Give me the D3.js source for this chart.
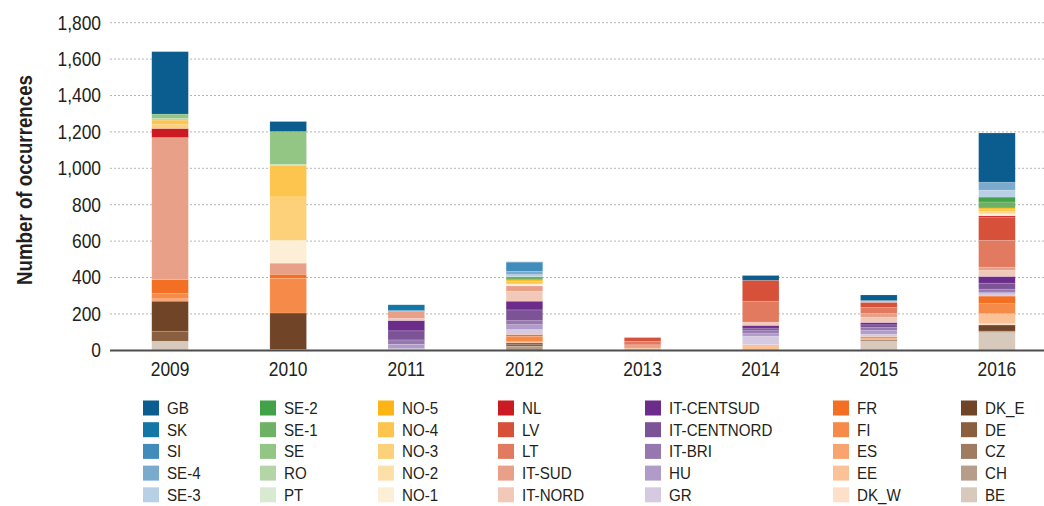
<!DOCTYPE html>
<html>
<head>
<meta charset="utf-8">
<script src="https://cdn.jsdelivr.net/npm/d3@7"></script>
<style>
  body { margin: 0; background: #fff; }
  text { font-family: "Liberation Sans", Arial, sans-serif; fill: #231f20; }
</style>
</head>
<body>
<div class="chart"></div>
<script>
var svgWidth = 1044;
var svgHeight = 506;

// the reference uses a condensed face, so text gets squeezed horizontally
var squeeze = 0.87;

// years on the x axis
var years = ["2009", "2010", "2011", "2012", "2013", "2014", "2015", "2016"];

// bidding zones, in stacking order (bottom -> top)
var zones = ["BE", "CH", "CZ", "DE", "DK_E", "DK_W", "EE", "ES", "FI", "FR",
  "GR", "HU", "IT-BRI", "IT-CENTNORD", "IT-CENTSUD", "IT-NORD", "IT-SUD", "LT", "LV", "NL",
  "NO-1", "NO-2", "NO-3", "NO-4", "NO-5", "PT", "RO", "SE", "SE-1", "SE-2",
  "SE-3", "SE-4", "SI", "SK", "GB"];

var zoneColors = ["#d8c9bd", "#b79c87", "#9e7b61", "#8a5f40", "#704427", "#fddfca", "#fcc297", "#f9a46f", "#f68a48", "#f26f23",
  "#d5cae2", "#b19cc9", "#9677b0", "#7d5397", "#6b2c8b", "#f2c8b8", "#e9a088", "#e27a5f", "#d6503a", "#cc1a22",
  "#fdefd5", "#fde0a8", "#fdd17a", "#fdc44e", "#fdb515", "#d9ead3", "#b4d6a7", "#93c585", "#6db264", "#41a247",
  "#b8d0e5", "#7aaacd", "#428cbc", "#1276a7", "#0b5c8f"];

// occurrences per year, same order as zones
//            BE CH CZ DE DK_E DK_W EE ES FI FR  GR HU BRI CNO CSU NORD SUD LT LV NL  N1 N2 N3 N4 N5 PT RO SE S1 S2  S3 S4 SI SK GB
var y2009 = [50, 0, 0, 55, 165, 0, 0, 13, 29, 77,  0, 0, 0, 0, 0, 0, 780, 0, 0, 50,  0, 0, 24, 22, 0, 0, 9, 24, 0, 0,  0, 0, 0, 0, 343];
var y2010 = [5, 0, 0, 0, 200, 0, 0, 0, 191, 22,  0, 0, 0, 0, 0, 0, 61, 0, 0, 0,  125, 0, 239, 174, 0, 0, 5, 180, 0, 0,  0, 0, 0, 0, 55];
var y2011 = [4, 0, 0, 0, 0, 0, 0, 0, 0, 0,  5, 24, 24, 50, 57, 11, 40, 0, 0, 0,  0, 0, 0, 0, 0, 0, 0, 0, 0, 0,  0, 0, 5, 30, 0];
var y2012 = [0, 22, 0, 9, 9, 0, 7, 0, 29, 11,  27, 27, 22, 59, 48, 55, 29, 0, 0, 0,  11, 0, 0, 15, 7, 0, 0, 0, 18, 0,  11, 18, 48, 4, 0];
var y2013 = [0, 0, 0, 0, 0, 0, 12, 0, 0, 0,  0, 0, 0, 0, 0, 0, 18, 20, 20, 0,  0, 0, 0, 0, 0, 0, 0, 0, 0, 0,  0, 0, 0, 0, 0];
var y2014 = [0, 0, 0, 0, 0, 0, 31, 0, 0, 0,  46, 18, 16, 11, 15, 18, 0, 115, 115, 0,  0, 0, 0, 0, 0, 0, 0, 0, 0, 0,  0, 0, 0, 0, 26];
var y2015 = [53, 0, 0, 0, 5, 0, 0, 9, 9, 0,  13, 20, 16, 15, 13, 29, 20, 33, 29, 0,  0, 0, 0, 0, 0, 0, 0, 0, 0, 0,  9, 0, 0, 0, 31];
var y2016 = [97, 9, 0, 0, 33, 7, 55, 0, 55, 42,  13, 9, 16, 33, 37, 33, 18, 147, 128, 7,  8, 8, 9, 9, 9, 0, 0, 0, 33, 27,  38, 44, 0, 0, 270];

var yTicks = [0, 200, 400, 600, 800, 1000, 1200, 1400, 1600, 1800];

var rows = [y2009, y2010, y2011, y2012, y2013, y2014, y2015, y2016].map(function(vals, i) {
  var row = { year: years[i] };
  zones.forEach(function(z, j) { row[z] = vals[j]; });
  return row;
});

var svg = d3.select(".chart")
  .append("svg")
  .attr("width", svgWidth)
  .attr("height", svgHeight);

var x = d3.scaleBand()
  .domain(years)
  .range([111, 1056])
  .paddingInner(0.69)
  .paddingOuter(0.345);

var y = d3.scaleLinear()
  .domain([0, 1800])
  .range([350.3, 22.7]);

var color = d3.scaleOrdinal().domain(zones).range(zoneColors);

// dotted gridlines
svg.append("g")
  .selectAll("line")
  .data(yTicks.slice(1))
  .enter()
  .append("line")
  .attr("x1", 110)
  .attr("x2", svgWidth)
  .attr("y1", d => y(d))
  .attr("y2", d => y(d))
  .attr("stroke", "#b5b5b5")
  .attr("stroke-width", 1)
  .attr("stroke-dasharray", "2,2");

// y tick labels
var leftAxis = d3.axisLeft(y).tickValues(yTicks).tickSize(0).tickPadding(0).tickFormat(d3.format(","));
svg.append("g")
  .attr("transform", "translate(101,0)")
  .call(leftAxis)
  .call(g => g.select(".domain").remove())
  .selectAll("text")
  .attr("font-size", "20px")
  .attr("font-family", null)
  .attr("transform", `scale(${squeeze},1)`);

// stacked bars
var stack = d3.stack().keys(zones);
var series = stack(rows);

svg.append("g")
  .selectAll("g")
  .data(series)
  .enter()
  .append("g")
  .attr("fill", d => color(d.key))
  .selectAll("rect")
  .data(d => d.filter(p => p[1] > p[0]))
  .enter()
  .append("rect")
  .attr("x", d => x(d.data.year))
  .attr("width", x.bandwidth())
  .attr("y", d => y(d[1]))
  .attr("height", d => y(d[0]) - y(d[1]))
  .attr("stroke", "#ffffff")
  .attr("stroke-opacity", 0.25)
  .attr("stroke-width", 0.6);

// baseline
svg.append("line")
  .attr("x1", 110)
  .attr("x2", svgWidth)
  .attr("y1", 350.5)
  .attr("y2", 350.5)
  .attr("stroke", "#4d4d4d")
  .attr("stroke-width", 2);

// x labels
var bottomAxis = d3.axisBottom(x).tickSize(0).tickPadding(0);
svg.append("g")
  .attr("transform", "translate(0,362)")
  .call(bottomAxis)
  .call(g => g.select(".domain").remove())
  .selectAll("text")
  .attr("font-size", "20px")
  .attr("font-family", null)
  .attr("dy", "0.71em")
  .attr("transform", `scale(${squeeze},1)`);

// y axis title
svg.append("text")
  .attr("transform", `translate(32,180) rotate(-90) scale(${squeeze},1)`)
  .attr("text-anchor", "middle")
  .attr("font-size", "21.5px")
  .attr("font-weight", "bold")
  .text("Number of occurrences");

// legend: columns read top-down, starting from GB
var legendCols = [143, 260, 378, 498, 645, 833, 961];
var legendRows = [408, 429.7, 451.4, 473.1, 494.8];
var legendItems = zones.slice().reverse();

var legend = svg.append("g")
  .selectAll("g")
  .data(legendItems)
  .enter()
  .append("g")
  .attr("transform", (d, i) => `translate(${legendCols[Math.floor(i / 5)]}, ${legendRows[i % 5]})`);

legend.append("rect")
  .attr("x", 0)
  .attr("y", -7.5)
  .attr("width", 16)
  .attr("height", 15)
  .attr("fill", d => color(d));

legend.append("text")
  .attr("transform", "translate(24,0) scale(0.89,1)")
  .attr("dy", "0.35em")
  .attr("font-size", "17px")
  .text(d => d);
</script>
</body>
</html>
